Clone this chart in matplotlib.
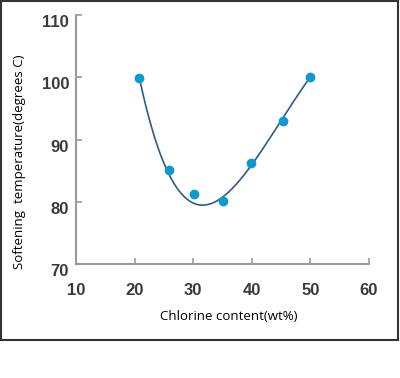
import numpy as np
import matplotlib
matplotlib.use('Agg')
import matplotlib.pyplot as plt
import matplotlib.transforms as mtransforms
from matplotlib.patches import Rectangle

chlorine = [20.8, 25.8, 30.1, 35.0, 39.8, 45.4, 49.9]
softening = [99.8, 85.1, 81.3, 80.2, 86.2, 93.0, 100.0]

# points along the drawn trend curve
curve_x = [20.9, 21.8, 22.9, 24.0, 25.8, 27.5, 29.2, 31.5, 33.7, 36.0, 39.8, 42.3, 45.4, 49.7]
curve_y = [99.8, 95.8, 91.5, 88.2, 85.1, 82.3, 80.2, 79.4, 79.7, 81.0, 86.2, 89.6, 93.0, 99.8]

x_ticks = [10, 20, 30, 40, 50, 60]
y_ticks = [70, 80, 90, 100, 110]

fig = plt.figure(figsize=(4.0, 3.78), dpi=100)
ax = fig.add_axes([0.19, 0.3016, 0.7325, 0.6587])

# smooth trend line fitted through the read curve points
coef = np.polyfit(curve_x, curve_y, 4)
xs = np.linspace(curve_x[0], curve_x[-1], 200)
ax.plot(xs, np.polyval(coef, xs), color='#2d5b8c', lw=1.2, zorder=2)
ax.scatter(chlorine, softening, s=36, color='#0a9ad0', zorder=3, clip_on=False)

ax.set_xlim(10, 60)
ax.set_ylim(70, 110)
ax.set_xticks(x_ticks)
ax.set_yticks(y_ticks)

for side in ['top', 'right']:
    ax.spines[side].set_visible(False)
for side in ['left', 'bottom']:
    ax.spines[side].set_color('#9a9a9a')
    ax.spines[side].set_linewidth(1.5)

ax.tick_params(axis='both', direction='in', length=4, width=1.2, color='#9a9a9a',
               labelsize=12, labelcolor='#3a3a3a')
ax.tick_params(axis='x', pad=14)
ax.tick_params(axis='y', pad=5)
for lab in ax.get_xticklabels() + ax.get_yticklabels():
    lab.set_fontfamily('Liberation Sans')
    lab.set_fontweight('bold')
# y tick labels sit a little below their ticks
shift = mtransforms.ScaledTranslation(0, -6 / 100, fig.dpi_scale_trans)
for lab in ax.get_yticklabels():
    lab.set_transform(lab.get_transform() + shift)

fig.text(229 / 400, 1 - 317 / 378, 'Chlorine content(wt%)', ha='center', va='center',
         fontsize=9.5, family='Open Sans', color='black')
fig.text(20 / 400, 1 - 162 / 378, 'Softening  temperature(degrees C)', ha='center',
         va='center', rotation=90, fontsize=9.5, family='Open Sans', color='black')

# outer frame
fig.patches.append(Rectangle((0.002, 1 - 340 / 378), 0.994, 340 / 378 - 0.002,
                             transform=fig.transFigure, fill=False,
                             edgecolor='#333333', lw=1.5))

fig.savefig('out.png', dpi=100)
